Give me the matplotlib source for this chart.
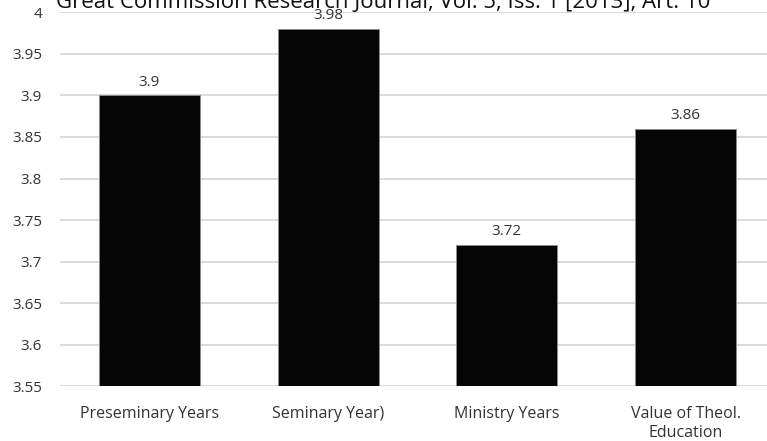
import matplotlib.pyplot as plt

categories = ["Preseminary Years", "Seminary Year)", "Ministry Years", "Value of Theol.\nEducation"]
values = [3.9, 3.98, 3.72, 3.86]
value_labels = ["3.9", "3.98", "3.72", "3.86"]
y_ticks = [3.55, 3.6, 3.65, 3.7, 3.75, 3.8, 3.85, 3.9, 3.95, 4.0]
y_tick_labels = ["3.55", "3.6", "3.65", "3.7", "3.75", "3.8", "3.85", "3.9", "3.95", "4"]
header = "Great Commission Research Journal, Vol. 5, Iss. 1 [2013], Art. 10"

plt.rcParams["font.family"] = ["Open Sans", "DejaVu Sans"]

W, H = 767, 441
fig = plt.figure(figsize=(W / 100, H / 100), dpi=100)
# axes run past the right edge, as in the cropped reference
ax = fig.add_axes([60 / W, 54.7 / H, 715 / W, 374 / H])

x = list(range(len(categories)))
ax.bar(x, [v - 3.55 for v in values], bottom=3.55, width=0.565,
       color="#050505", edgecolor="#8c8c8c", linewidth=0.6, zorder=3)
for xi, v, lab in zip(x, values, value_labels):
    ax.annotate(lab, (xi, v), xytext=(0, 4), textcoords="offset points",
                ha="center", va="bottom", fontsize=11, color="#333333")

ax.set_xlim(-0.5, 3.5)
ax.set_ylim(3.55, 4.0)
ax.set_yticks(y_ticks)
ax.set_yticklabels(y_tick_labels, fontsize=11, color="#333333")
ax.set_xticks(x)
ax.set_xticklabels(categories, fontsize=11.5, color="#333333", linespacing=1.25)
ax.tick_params(length=0)
ax.tick_params(axis="y", pad=13)
ax.tick_params(axis="x", pad=14)
ax.yaxis.grid(True, color="#d4d4d4", linewidth=1.2, zorder=0)
for s in ax.spines.values():
    s.set_visible(False)

fig.text(383 / W, (H - 8) / H, header, ha="center", va="baseline",
         fontsize=16, color="#111111")

fig.savefig("out.png", dpi=100)
